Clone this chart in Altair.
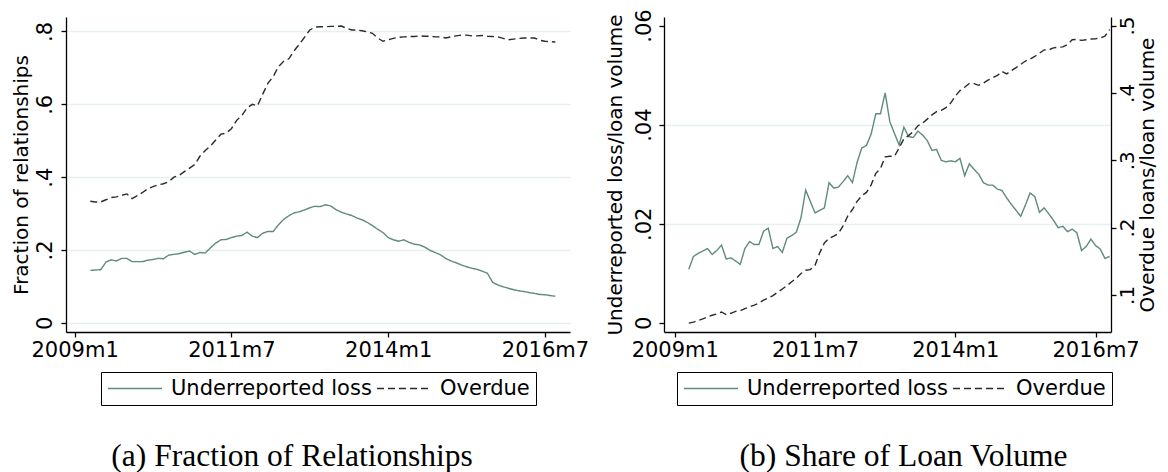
import altair as alt
import pandas as pd

# ---------------- data ----------------
# month index counted from 2009m1 (=0); both series start in 2009m4
months_a = list(range(3, 93))   # 2009m4 .. 2016m9
months_b = list(range(3, 94))   # 2009m4 .. 2016m10

frac_underreported = [
    .144, .145, .146, .167, .173, .170, .177, .177, .168, .168,
    .168, .172, .174, .177, .176, .186, .188, .190, .194, .197,
    .188, .193, .192, .206, .219, .228, .229, .234, .238, .240,
    .249, .238, .234, .246, .251, .251, .269, .284, .294, .302,
    .305, .310, .316, .320, .319, .324, .321, .311, .304, .299,
    .295, .288, .283, .276, .267, .257, .248, .234, .228, .224,
    .228, .221, .216, .214, .208, .199, .193, .187, .177, .170,
    .165, .159, .154, .150, .147, .142, .136, .111, .104, .099,
    .095, .091, .088, .086, .083, .081, .078, .077, .075, .073,
]
frac_overdue = [
    .334, .332, .332, .338, .344, .346, .350, .354, .341, .349,
    .358, .368, .374, .379, .382, .387, .400, .405, .415, .425,
    .435, .458, .473, .486, .502, .518, .521, .533, .556, .569,
    .590, .600, .596, .628, .658, .676, .703, .718, .725, .747,
    .765, .784, .804, .812, .813, .813, .814, .814, .815, .809,
    .804, .804, .802, .799, .795, .782, .773, .777, .781, .784,
    .785, .786, .786, .788, .787, .787, .785, .785, .782, .785,
    .788, .790, .790, .788, .788, .789, .787, .786, .785, .781,
    .777, .779, .781, .782, .782, .782, .776, .773, .772, .771,
]
vol_underreported = [
    .0108, .0134, .0140, .0145, .0150, .0138, .0146, .0157, .0129, .0131,
    .0125, .0118, .0150, .0164, .0158, .0158, .0185, .0191, .0150, .0154,
    .0142, .0171, .0176, .0183, .0212, .0268, .0245, .0222, .0227, .0232,
    .0283, .0272, .0274, .0285, .0297, .0283, .0324, .0353, .0358, .0381,
    .0422, .0422, .0464, .0406, .0382, .0359, .0395, .0376, .0374, .0387,
    .0379, .0368, .0348, .0350, .0328, .0325, .0327, .0325, .0332, .0297,
    .0321, .0310, .0300, .0283, .0278, .0278, .0270, .0267, .0252, .0239,
    .0227, .0215, .0238, .0262, .0255, .0223, .0232, .0220, .0207, .0192,
    .0195, .0184, .0189, .0182, .0146, .0154, .0169, .0156, .0149, .0130,
    .0134,
]
vol_overdue = [
    .0580, .0595, .0620, .0644, .0673, .0698, .0717, .0746, .0707, .0727,
    .0756, .0766, .0795, .0824, .0849, .0878, .0922, .0956, .0990, .1039,
    .1088, .1137, .1195, .1249, .1317, .1366, .1376, .1439, .1624, .1771,
    .1839, .1873, .1912, .2024, .2171, .2268, .2390, .2473, .2522, .2634,
    .2805, .2878, .3049, .3059, .3059, .3185, .3317, .3366, .3424, .3512,
    .3551, .3610, .3673, .3722, .3741, .3780, .3849, .3951, .4034, .4083,
    .4141, .4137, .4112, .4146, .4190, .4224, .4259, .4317, .4283, .4332,
    .4376, .4424, .4473, .4502, .4541, .4590, .4639, .4639, .4668, .4678,
    .4683, .4717, .4790, .4795, .4780, .4790, .4800, .4805, .4815, .4844,
    .4941,
]

series_names = ["Underreported loss", "Overdue"]
x_tick_values = [0, 30, 60, 90]
x_tick_labels = ["2009m1", "2011m7", "2014m1", "2016m7"]
ya_ticks = [0, 0.2, 0.4, 0.6, 0.8]
yb_left_ticks = [0, 0.02, 0.04, 0.06]
yb_right_ticks = [0.1, 0.2, 0.3, 0.4, 0.5]

captions = ["(a) Fraction of Relationships", "(b) Share of Loan Volume"]

# ---------------- styling ----------------
SOLID = "#5f8a7f"
DASHC = "#2b2b2b"
GRID = "#e6f0f1"
FONT = "DejaVu Sans"
SERIF = "Liberation Serif"

def frame(months, vals, name):
    return pd.DataFrame({"m": months, "v": vals, "series": name})

dfA = pd.concat([frame(months_a, frac_underreported, series_names[0]),
                 frame(months_a, frac_overdue, series_names[1])])
dfBu = frame(months_b, vol_underreported, series_names[0])
dfBo = frame(months_b, vol_overdue, series_names[1])

label_expr_x = " : ".join(
    f"datum.value == {v} ? '{l}'" for v, l in zip(x_tick_values, x_tick_labels)
) + " : ''"

def x_enc(domain):
    return alt.X(
        "m:Q",
        scale=alt.Scale(domain=domain, nice=False, zero=False),
        axis=alt.Axis(values=x_tick_values, labelExpr=label_expr_x, title=None,
                      grid=False, labelFontSize=21, labelPadding=2,
                      labelFlush=False, labelOverlap=False),
    )

def legend(lx, ly):
    return alt.Legend(title=None, orient="none", legendX=lx, legendY=ly,
                      direction="horizontal", strokeColor="black",
                      fillColor="white", padding=6, clipHeight=21,
                      symbolType="stroke", symbolSize=2916,
                      symbolStrokeWidth=1.3, labelFontSize=21,
                      labelFont=FONT, labelColor="black", labelOffset=8,
                      columnPadding=4, labelLimit=0)

def color_enc(lg):
    return alt.Color("series:N",
                     scale=alt.Scale(domain=series_names, range=[SOLID, DASHC]),
                     legend=lg)

def dash_enc(lg):
    return alt.StrokeDash("series:N",
                          scale=alt.Scale(domain=series_names,
                                          range=[[1, 0], [7, 4]]),
                          legend=lg)

H = 315

# ---- panel A ----
lgA = legend(35, 355)
panelA = alt.Chart(dfA).mark_line(strokeWidth=1.4).encode(
    x=x_enc([-1.65, 94.8]),
    y=alt.Y("v:Q",
            scale=alt.Scale(domain=[-0.0251, 0.8397], nice=False, zero=False),
            axis=alt.Axis(values=ya_ticks,
                          labelExpr="datum.value == 0 ? '0' : substring(format(datum.value, '.1f'), 1)",
                          title="Fraction of relationships", grid=True,
                          gridColor=GRID, gridWidth=1.5,
                          labelAngle=270, labelAlign="center",
                          labelBaseline="bottom", labelPadding=6,
                          labelFontSize=21, titleFontSize=20, titlePadding=3)),
    color=color_enc(lgA),
    strokeDash=dash_enc(lgA),
    order="m:Q",
).properties(
    width=504, height=H,
    title=alt.TitleParams(text=captions[0], orient="bottom", anchor="middle",
                          font=SERIF, fontSize=31.5, fontWeight="normal",
                          color="black", offset=35, dx=-26),
)

# ---- panel B ----
lgB = legend(13, 355)
xB = x_enc([-2.3, 93.3])
lineBu = alt.Chart(dfBu).mark_line(strokeWidth=1.4).encode(
    x=xB,
    y=alt.Y("v:Q",
            scale=alt.Scale(domain=[-0.00185, 0.06173], nice=False, zero=False),
            axis=alt.Axis(values=yb_left_ticks,
                          labelExpr="datum.value == 0 ? '0' : substring(format(datum.value, '.2f'), 1)",
                          title="Underreported loss/loan volume", grid=True,
                          gridColor={"condition": {"test": "datum.value > 0.01 && datum.value < 0.05",
                                                   "value": GRID},
                                     "value": "rgba(0,0,0,0)"},
                          gridWidth=1.5,
                          labelAngle=270, labelAlign="center",
                          labelBaseline="bottom", labelPadding=5,
                          labelFontSize=21, titleFontSize=20, titlePadding=8)),
    color=color_enc(lgB),
    strokeDash=dash_enc(lgB),
    order="m:Q",
)
lineBo = alt.Chart(dfBo).mark_line(strokeWidth=1.4).encode(
    x=xB,
    y=alt.Y("v:Q",
            scale=alt.Scale(domain=[0.0449, 0.5127], nice=False, zero=False),
            axis=alt.Axis(orient="right", values=yb_right_ticks,
                          labelExpr="substring(format(datum.value, '.1f'), 1)",
                          title="Overdue loans/loan volume", grid=False,
                          labelAngle=270, labelAlign="center",
                          labelBaseline="top", labelPadding=1,
                          labelFontSize=20, titleFontSize=20, titlePadding=0,
                          titleAngle=270, titleBaseline="top")),
    color=color_enc(lgB),
    strokeDash=dash_enc(lgB),
    order="m:Q",
)
panelB = alt.layer(lineBu, lineBo).resolve_scale(y="independent").properties(
    width=447, height=H,
    title=alt.TitleParams(text=captions[1], orient="bottom", anchor="middle",
                          font=SERIF, fontSize=31.5, fontWeight="normal",
                          color="black", offset=35, dx=16),
)

chart = alt.hconcat(panelA, panelB, spacing=94, bounds="flush").resolve_scale(
    color="independent", strokeDash="independent"
).resolve_legend(
    color="independent", strokeDash="independent"
).properties(
    padding={"left": 3, "top": 0, "right": 3, "bottom": 0},
    background="white",
).configure_view(
    stroke=None
).configure_axis(
    domainColor="black", tickColor="black", labelColor="black",
    titleColor="black", labelFont=FONT, titleFont=FONT,
    titleFontWeight="normal", tickSize=5, domainWidth=1.3, tickWidth=1.3,
)

chart.save("out.html", embed_options={"renderer": "svg", "actions": False})
